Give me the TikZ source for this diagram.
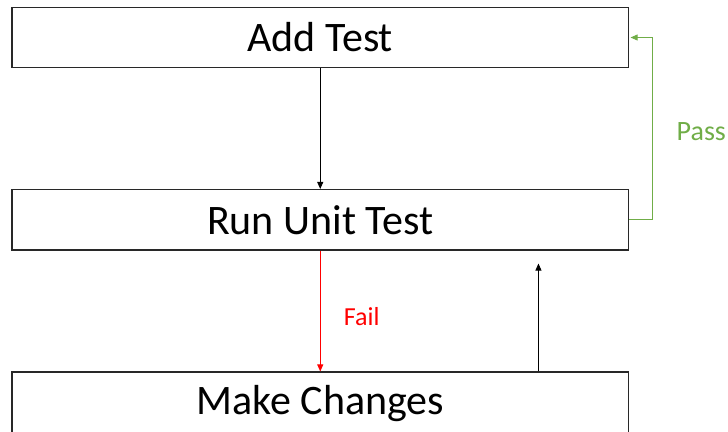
\documentclass[tikz,border=0pt]{standalone}
\usepackage{fontspec}
\setmainfont{Carlito}
\usetikzlibrary{arrows.meta,calc}
\definecolor{passgreen}{RGB}{112,173,71}
\definecolor{boxline}{RGB}{40,40,40}
\tikzset{
  stagebox/.style={draw=boxline, line width=1.1pt, minimum width=616.5pt,
    inner sep=0pt, font=\fontsize{42}{48}\selectfont},
  flow/.style={line width=0.9pt, -{Triangle[length=7pt,width=6pt]}},
  lbl/.style={inner sep=0pt}
}
\begin{document}
\begin{tikzpicture}[x=1pt,y=1pt]
  \useasboundingbox (0,0) rectangle (728,-431);
  \clip (0,0) rectangle (728,-431);
  % the three stages of the cycle
  \node[stagebox, minimum height=60pt] (addtest) at (320.25,-37.5) {Add Test};
  \node[stagebox, minimum height=60.5pt] (runtest) at (320.25,-219.75) {Run Unit Test};
  \node[stagebox, minimum height=64pt] (change) at (320.25,-404) {Make Changes};
  % transitions
  \draw[flow] (addtest.south) -- (runtest.north);
  \draw[flow, red] (runtest.south) -- (change.north)
    node[lbl, font=\fontsize{26}{30}\selectfont, text=red, midway,
         xshift=41.5pt, yshift=-6pt] (fail) {Fail};
  \coordinate (backup) at ($(change.north west)+(527,0)$);
  \draw[flow, shorten >=13pt] (backup) -- (backup |- runtest.south);
  \draw[flow, passgreen, line width=0.8pt, shorten >=1.5pt]
    (runtest.east) -- ++(23,0) |- (addtest.east);
  \node[lbl, font=\fontsize{28}{32}\selectfont, text=passgreen, anchor=west]
    (pass) at (676.5,-131.7) {Pass};
\end{tikzpicture}
\end{document}
